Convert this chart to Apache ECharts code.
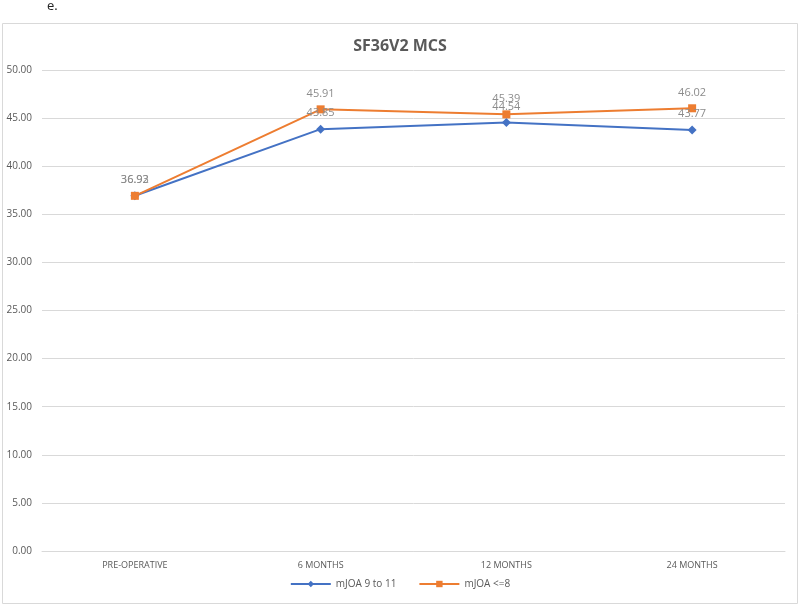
<!DOCTYPE html>
<html>
<head>
<meta charset="utf-8">
<script src="https://cdn.jsdelivr.net/npm/echarts@6/dist/echarts.min.js"></script>
<style>
html, body { margin: 0; padding: 0; background: #fff; }
#chart { width: 800px; height: 604px; }
</style>
</head>
<body>
<div id="chart"></div>
<script>
const categories = ["PRE-OPERATIVE", "6 MONTHS", "12 MONTHS", "24 MONTHS"];
const mild = [36.93, 43.85, 44.54, 43.77];
const severe = [36.92, 45.91, 45.39, 46.02];
const seriesNames = ["mJOA 9 to 11", "mJOA <=8"];

const chart = echarts.init(document.getElementById("chart"));

const labelStyle = {
    show: true,
    position: "top",
    distance: 6,
    color: "#8c8c8c",
    fontSize: 11,
    fontFamily: "Open Sans",
    formatter: p => p.value.toFixed(2),
};

chart.setOption({
    animation: false,
    textStyle: { fontFamily: "Open Sans" },
    graphic: [
        {
            type: "rect",
            shape: { x: 2.5, y: 23.5, width: 795, height: 580 },
            style: { fill: "none", stroke: "#d9d9d9", lineWidth: 1 },
        },
        {
            type: "text",
            left: 47,
            top: 0,
            style: { text: "e.", fontSize: 13, fill: "#222", fontFamily: "Open Sans" },
        },
    ],
    title: {
        text: "SF36V2 MCS",
        left: "center",
        top: 33,
        textStyle: { color: "#595959", fontSize: 16, fontWeight: "bold", fontFamily: "Open Sans" },
    },
    legend: {
        bottom: 10,
        left: "center",
        itemWidth: 40,
        itemHeight: 8,
        itemGap: 22,
        textStyle: { color: "#595959", fontSize: 10 },
        data: seriesNames,
    },
    grid: { left: 42, right: 15, top: 70, bottom: 53, containLabel: false },
    xAxis: {
        type: "category",
        data: categories,
        axisLine: { lineStyle: { color: "#d9d9d9" } },
        axisTick: { show: false },
        axisLabel: { color: "#595959", fontSize: 9, margin: 10 },
    },
    yAxis: {
        type: "value",
        min: 0,
        max: 50,
        interval: 5,
        axisLine: { show: false },
        axisTick: { show: false },
        axisLabel: { color: "#595959", fontSize: 10, formatter: v => v.toFixed(2), margin: 10 },
        splitLine: { lineStyle: { color: "#d9d9d9" } },
    },
    series: [
        {
            name: seriesNames[0],
            type: "line",
            data: mild,
            symbol: "diamond",
            symbolSize: 9,
            color: "#4472c4",
            lineStyle: { width: 2 },
            label: labelStyle,
        },
        {
            name: seriesNames[1],
            type: "line",
            data: severe,
            symbol: "rect",
            symbolSize: 8,
            color: "#ed7d31",
            lineStyle: { width: 2 },
            label: labelStyle,
        },
    ],
});
</script>
</body>
</html>
